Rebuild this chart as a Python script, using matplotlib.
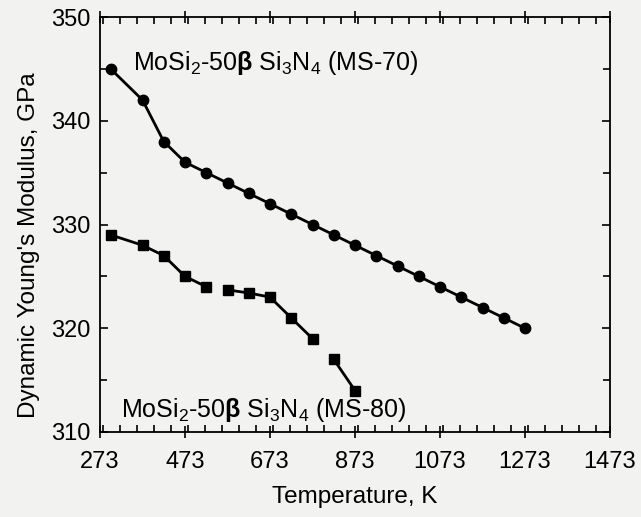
import matplotlib
matplotlib.use("Agg")
import matplotlib.pyplot as plt
import numpy as np
from matplotlib.ticker import MultipleLocator, FixedLocator

plt.rcParams['font.family'] = ['Liberation Sans', 'DejaVu Sans']
plt.rcParams['mathtext.fontset'] = 'custom'
plt.rcParams['mathtext.rm'] = 'Liberation Sans'
plt.rcParams['mathtext.it'] = 'Liberation Sans:italic'
plt.rcParams['mathtext.bf'] = 'Liberation Sans:bold'

# MS-70 data (circles)
temp_ms70 = [298, 373, 423, 473, 523, 573, 623, 673, 723, 773, 823, 873,
             923, 973, 1023, 1073, 1123, 1173, 1223, 1273]
mod_ms70 = [345, 342, 338, 336, 335, 334, 333, 332, 331, 330, 329, 328,
            327, 326, 325, 324, 323, 322, 321, 320]

# MS-80 data (squares), line segments broken between groups
temp_ms80 = [298, 373, 423, 473, 523, 573, 623, 673, 723, 773, 823, 873]
mod_ms80 = [329, 328, 327, 325, 324, 323.7, 323.4, 323.0, 321, 319, 317, 314]
seg_ms80 = [0, 0, 0, 0, 0, 1, 1, 1, 1, 1, 2, 2]

xticks = [273, 473, 673, 873, 1073, 1273, 1473]
yticks = [310, 320, 330, 340, 350]

label_70 = r"MoSi$_2$-50$\mathbf{\beta}$ Si$_3$N$_4$ (MS-70)"
label_80 = r"MoSi$_2$-50$\mathbf{\beta}$ Si$_3$N$_4$ (MS-80)"

bg = '#f2f2f1'
fig = plt.figure(figsize=(6.41, 5.17), dpi=100, facecolor=bg)
ax = fig.add_axes([100/641, 1-432/517, 510/641, 415/517], facecolor=bg)

ax.plot(temp_ms70, mod_ms70, color='black', lw=2, marker='o', ms=7.5,
        markerfacecolor='black', markeredgecolor='black')

t80 = np.array(temp_ms80, dtype=float)
m80 = np.array(mod_ms80, dtype=float)
s80 = np.array(seg_ms80)
for s in np.unique(s80):
    sel = s80 == s
    ax.plot(t80[sel], m80[sel], color='black', lw=2)
ax.plot(t80, m80, ls='none', marker='s', ms=7, color='black')

ax.set_xlim(273, 1473)
ax.set_ylim(310, 350)
ax.xaxis.set_major_locator(FixedLocator(xticks))
ax.xaxis.set_minor_locator(MultipleLocator(40))
ax.yaxis.set_major_locator(FixedLocator(yticks))
ax.yaxis.set_minor_locator(MultipleLocator(5))

ax.tick_params(axis='both', which='both', direction='in', top=True, right=True,
               labelsize=17, width=1.2)
ax.tick_params(axis='both', which='major', length=6, pad=7)
ax.tick_params(axis='both', which='minor', length=5)
ax.tick_params(axis='x', which='major', direction='inout', length=8, pad=10)

for sp in ax.spines.values():
    sp.set_linewidth(1.3)

ax.set_xlabel("Temperature, K", fontsize=17.5, labelpad=9)
ax.set_ylabel("Dynamic Young's Modulus, GPa", fontsize=17.5)
ax.yaxis.set_label_coords(-0.118, 0.45)

fig.text(133/641, 1-63/517, label_70, fontsize=18, va='center', ha='left')
fig.text(121/641, 1-410/517, label_80, fontsize=18, va='center', ha='left')

fig.savefig("out.png", dpi=100, facecolor=bg)
